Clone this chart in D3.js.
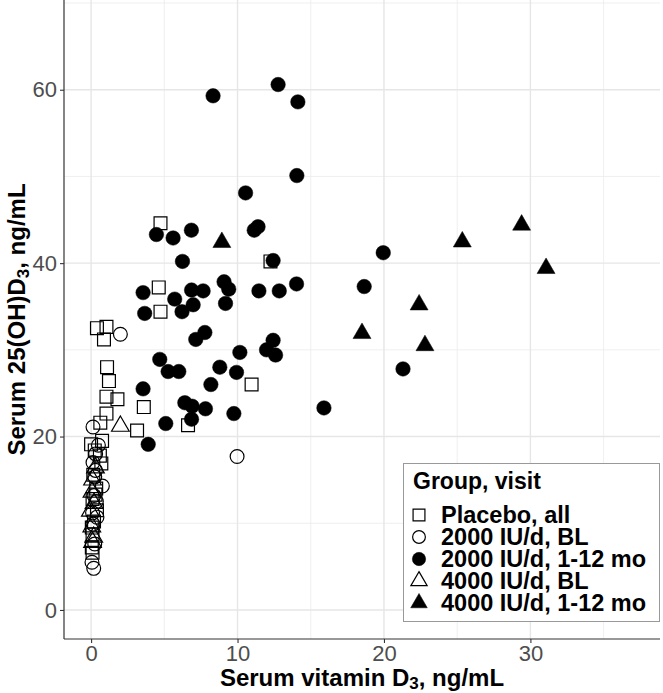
<!DOCTYPE html>
<html><head><meta charset="utf-8">
<script src="https://cdn.jsdelivr.net/npm/d3@7"></script>
<style>body{margin:0;background:#fff}svg{display:block;font-family:"Liberation Sans",Arial,sans-serif}</style>
</head><body><svg id="c" width="663" height="693"></svg>
<script>
// ---- data (x = serum vitamin D3, y = serum 25(OH)D3) ----
const placeboX = [4.74,12.25,4.62,4.74,0.4,1.05,0.88,1.09,1.22,1.05,1.8,10.96,3.6,1.05,0.63,6.62,3.14,0.75,0.0,0.7,0.15,0.35,0.1,0.4,0.2,0.1,0.05,0.1,0.25,0.3,0.05,0.6];
const placeboY = [44.6,40.2,37.2,34.4,32.5,32.65,31.2,28.0,26.4,24.6,24.3,26.0,23.4,22.65,21.6,21.3,20.7,19.5,19.1,16.9,15.6,14.0,12.8,11.5,10.2,8.7,7.2,6.6,18.4,13.3,9.5,17.8];
const bl2000X = [2.0,9.97,0.13,0.31,0.13,0.25,0.77,0.36,0.13,0.06,0.18,0.3,0.2,0.1,0.4,0.25,0.5];
const bl2000Y = [31.8,17.7,21.1,18.0,17.0,15.35,14.3,12.5,9.9,5.5,4.8,16.1,13.2,11.2,10.7,7.6,19.0];
const fu2000X = [8.33,12.77,14.12,14.05,10.55,11.4,11.14,6.85,4.46,5.6,6.24,12.43,3.55,6.86,7.65,9.08,9.4,11.46,12.85,14.03,5.71,6.97,6.21,9.18,3.66,7.77,7.15,12.43,11.98,12.6,10.16,4.69,8.79,9.93,5.26,5.99,8.18,3.55,6.4,6.9,7.81,9.75,6.86,5.1,3.9,15.9,19.95,18.65,21.3];
const fu2000Y = [59.3,60.6,58.6,50.1,48.1,44.2,43.8,43.8,43.3,42.9,40.2,40.3,36.6,36.9,36.8,37.85,37.0,36.8,36.8,37.6,35.85,35.2,34.4,35.35,34.2,32.0,31.2,31.1,30.0,29.4,29.7,28.9,28.0,27.4,27.5,27.5,26.0,25.5,23.9,23.5,23.2,22.65,22.0,21.5,19.1,23.3,41.2,37.3,27.8];
const bl4000X = [2.0,0.06,-0.05,0.18,0.1,0.2,0.05,0.3,0.1];
const bl4000Y = [21.2,13.6,11.4,8.4,15.0,12.3,9.6,16.4,7.8];
const fu4000X = [8.93,25.35,29.4,31.07,22.4,18.5,22.8];
const fu4000Y = [42.4,42.46,44.4,39.4,35.2,31.9,30.5];

const groupLabels = ["Placebo, all","2000 IU/d, BL","2000 IU/d, 1-12 mo","4000 IU/d, BL","4000 IU/d, 1-12 mo"];
const xTicks = [0,10,20,30];
const yTicks = [0,20,40,60];
const xMinor = [5,15,25,35];
const yMinor = [10,30,50,70];

const groups = [
  {label:groupLabels[0], xs:placeboX, ys:placeboY, shape:d3.symbolSquare, size:165, fill:"none"},
  {label:groupLabels[1], xs:bl2000X, ys:bl2000Y, shape:d3.symbolCircle, size:150, fill:"none"},
  {label:groupLabels[2], xs:fu2000X, ys:fu2000Y, shape:d3.symbolCircle, size:165, fill:"#000"},
  {label:groupLabels[3], xs:bl4000X, ys:bl4000Y, shape:d3.symbolTriangle, size:135, fill:"none"},
  {label:groupLabels[4], xs:fu4000X, ys:fu4000Y, shape:d3.symbolTriangle, size:140, fill:"#000"}
];

const svg = d3.select("#c");
const L = 64, R = 660, T = 0, B = 639;
const x = d3.scaleLinear().domain([-1.85, 38.85]).range([L, R]);
const y = d3.scaleLinear().domain([-3.35, 70.35]).range([B, T]);

// grid
const g = svg.append("g");
g.selectAll(".vmin").data(xMinor).join("line").attr("x1",d=>x(d)).attr("x2",d=>x(d)).attr("y1",T).attr("y2",B).attr("stroke","#ebebeb").attr("stroke-width",0.8);
g.selectAll(".hmin").data(yMinor).join("line").attr("y1",d=>y(d)).attr("y2",d=>y(d)).attr("x1",L).attr("x2",R).attr("stroke","#ebebeb").attr("stroke-width",0.8);
g.selectAll(".vmaj").data(xTicks).join("line").attr("x1",d=>x(d)).attr("x2",d=>x(d)).attr("y1",T).attr("y2",B).attr("stroke","#e6e6e6").attr("stroke-width",1.4);
g.selectAll(".hmaj").data(yTicks).join("line").attr("y1",d=>y(d)).attr("y2",d=>y(d)).attr("x1",L).attr("x2",R).attr("stroke","#e6e6e6").attr("stroke-width",1.4);

// axes
const xAxis = d3.axisBottom(x).tickValues(xTicks).tickSize(4).tickPadding(3).tickFormat(d3.format("d"));
const yAxis = d3.axisLeft(y).tickValues(yTicks).tickSize(4).tickPadding(3).tickFormat(d3.format("d"));
const gx = svg.append("g").attr("transform",`translate(0,${B})`).call(xAxis);
const gy = svg.append("g").attr("transform",`translate(${L},0)`).call(yAxis);
[gx,gy].forEach(a=>{
  a.select(".domain").remove();
  a.selectAll(".tick line").attr("stroke","#333").attr("stroke-width",1.1);
  a.selectAll(".tick text").attr("fill","#4d4d4d").attr("font-size",22).attr("font-family","Liberation Sans, Arial, sans-serif");
});
gx.selectAll(".tick text").attr("dy","0.71em").attr("y",6);
svg.append("line").attr("x1",L).attr("x2",L).attr("y1",T).attr("y2",B).attr("stroke","#333").attr("stroke-width",1.2);
svg.append("line").attr("x1",L).attr("x2",R).attr("y1",B).attr("y2",B).attr("stroke","#333").attr("stroke-width",1.2);

// points
groups.forEach(gr=>{
  const sym = d3.symbol().type(gr.shape).size(gr.size);
  svg.append("g").selectAll("path").data(gr.xs.map((v,i)=>[v,gr.ys[i]])).join("path")
    .attr("d",sym).attr("transform",d=>`translate(${x(d[0])},${y(d[1])})`)
    .attr("fill",gr.fill).attr("stroke","#000").attr("stroke-width",gr.fill==="none"?1.2:0.5);
});

// axis titles
const xt = svg.append("text").attr("x",(L+R)/2).attr("y",686).attr("text-anchor","middle").attr("font-size",24).attr("font-weight","bold").attr("fill","#000");
xt.append("tspan").text("Serum vitamin D");
xt.append("tspan").text("3").attr("font-size",17).attr("dy",3);
xt.append("tspan").text(", ng/mL").attr("dy",-3);
const yt = svg.append("text").attr("transform",`translate(25,${(T+B)/2}) rotate(-90)`).attr("text-anchor","middle").attr("font-size",24).attr("font-weight","bold").attr("fill","#000");
yt.append("tspan").text("Serum 25(OH)D");
yt.append("tspan").text("3").attr("font-size",17).attr("dy",4);
yt.append("tspan").text(", ng/mL").attr("dy",-4);

// legend
const lg = svg.append("g");
lg.append("rect").attr("x",403.5).attr("y",463.5).attr("width",256).attr("height",158).attr("fill","#fff").attr("stroke","#999").attr("stroke-width",1);
lg.append("text").attr("x",413).attr("y",489).attr("font-size",23).attr("font-weight","bold").text("Group, visit");
groups.forEach((gr,i)=>{
  const by = 523 + i*22;
  const sym = d3.symbol().type(gr.shape).size(gr.size*0.85);
  lg.append("path").attr("d",sym).attr("transform",`translate(419,${by-8})`).attr("fill",gr.fill).attr("stroke","#000").attr("stroke-width",gr.fill==="none"?1.2:0.5);
  lg.append("text").attr("x",441).attr("y",by).attr("font-size",23.5).attr("font-weight","bold").text(gr.label);
});
</script></body></html>
